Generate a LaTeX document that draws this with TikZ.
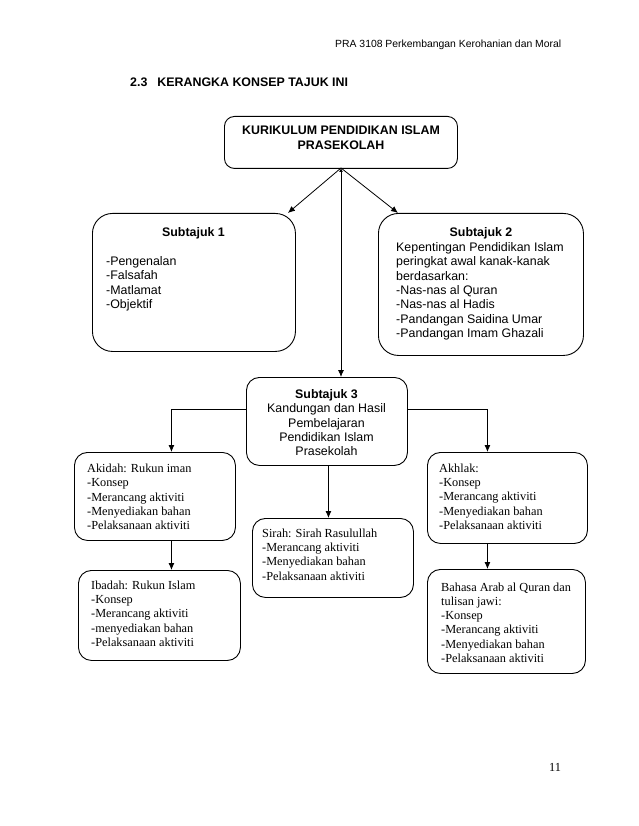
\documentclass[tikz,border=0pt]{standalone}
\usepackage{fontspec}
\setmainfont{Liberation Serif}
\setsansfont{Liberation Sans}
\usetikzlibrary{arrows.meta,calc}
\begin{document}
\begin{tikzpicture}[x=1pt,y=-1pt,
  box/.style={draw, line width=0.9pt, rounded corners=12pt, inner sep=0pt, anchor=north west},
  arr/.style={line width=0.8pt, -{Latex[length=7pt,width=6pt]}},
  sanstxt/.style={inner sep=0pt, font=\sffamily\fontsize{12.4}{14.3}\selectfont},
  seriftxt/.style={inner sep=0pt, font=\rmfamily\fontsize{12.3}{14.3}\selectfont},
]
\useasboundingbox (0,0) rectangle (638,826);

% header and title
\node[inner sep=0pt, anchor=base west, font=\sffamily\fontsize{10.4}{12}\selectfont] (hdr) at (335,48) {PRA 3108 Perkembangan Kerohanian dan Moral};
\node[sanstxt, anchor=base west, font=\sffamily\bfseries\fontsize{12.4}{14}\selectfont] (ttl) at (130,86.4) {2.3\hspace{10pt}KERANGKA KONSEP TAJUK INI};

% boxes
\node[box, rounded corners=10pt, minimum width=233pt, minimum height=52pt] (main) at (224,116) {};
\node[box, rounded corners=20pt, minimum width=203pt, minimum height=138pt] (s1) at (92,213) {};
\node[box, rounded corners=20pt, minimum width=205pt, minimum height=142pt] (s2) at (378,213) {};
\node[box, rounded corners=13pt, minimum width=161pt, minimum height=88pt] (s3) at (246,377) {};
\node[box, rounded corners=13pt, minimum width=161pt, minimum height=88pt] (akidah) at (74,452) {};
\node[box, rounded corners=13pt, minimum width=162pt, minimum height=90pt] (ibadah) at (78,570) {};
\node[box, rounded corners=13pt, minimum width=161pt, minimum height=79pt] (sirah) at (252,518) {};
\node[box, rounded corners=13pt, minimum width=160pt, minimum height=91pt] (akhlak) at (427,452) {};
\node[box, rounded corners=13pt, minimum width=158pt, minimum height=104pt] (bahasa) at (427,569) {};

% texts
\node[sanstxt, anchor=north, align=center, font=\sffamily\bfseries\fontsize{12.4}{15}\selectfont] (maintxt) at (341,125.5) {KURIKULUM PENDIDIKAN ISLAM\\PRASEKOLAH};
\node[sanstxt, anchor=north, font=\sffamily\bfseries\fontsize{12.4}{14.3}\selectfont] (s1t) at (193.5,227.5) {Subtajuk 1};
\node[sanstxt, anchor=north west, align=left] (s1b) at (106,256.5) {-Pengenalan\\-Falsafah\\-Matlamat\\-Objektif};
\node[sanstxt, anchor=north, font=\sffamily\bfseries\fontsize{12.4}{14.3}\selectfont] (s2t) at (481,227.5) {Subtajuk 2};
\node[sanstxt, anchor=north west, align=left] (s2b) at (396,242.5) {Kepentingan Pendidikan Islam\\peringkat awal kanak-kanak\\berdasarkan:\\-Nas-nas al Quran\\-Nas-nas al Hadis\\-Pandangan Saidina Umar\\-Pandangan Imam Ghazali};
\node[sanstxt, anchor=north, align=center] (s3b) at (326.5,389.5) {\textbf{Subtajuk 3}\\Kandungan dan Hasil\\Pembelajaran\\Pendidikan Islam\\Prasekolah};
\node[seriftxt, anchor=north west, align=left] (akidahb) at (87,463.8) {Akidah: Rukun iman\\-Konsep\\-Merancang aktiviti\\-Menyediakan bahan\\-Pelaksanaan aktiviti};
\node[seriftxt, anchor=north west, align=left] (ibadahb) at (91,580.6) {Ibadah: Rukun Islam\\-Konsep\\-Merancang aktiviti\\-menyediakan bahan\\-Pelaksanaan aktiviti};
\node[seriftxt, anchor=north west, align=left] (sirahb) at (262,528.6) {Sirah: Sirah Rasulullah\\-Merancang aktiviti\\-Menyediakan bahan\\-Pelaksanaan aktiviti};
\node[seriftxt, anchor=north west, align=left] (akhlakb) at (439,463.6) {Akhlak:\\-Konsep\\-Merancang aktiviti\\-Menyediakan bahan\\-Pelaksanaan aktiviti};
\node[seriftxt, anchor=north west, align=left] (bahasab) at (441,582.3) {Bahasa Arab al Quran dan\\tulisan jawi:\\-Konsep\\-Merancang aktiviti\\-Menyediakan bahan\\-Pelaksanaan aktiviti};
\node[seriftxt, anchor=base] (pg) at (555,771) {11};

% connectors
\coordinate (src) at (341,168);
\draw[arr] (src) -- ([xshift=-8pt]s1.north east);
\draw[arr] (src) -- ([xshift=20pt]s2.north west);
\draw[line width=0.8pt, {Latex[length=4pt,width=4pt]}-{Latex[length=7pt,width=6pt]}] (src) -- (src |- s3.north);
\draw[arr] ([yshift=12pt]s3.west) -| ([xshift=16.5pt]akidah.north);
\draw[arr] ([xshift=16.5pt]akidah.south) -- ([xshift=16.5pt]akidah.south |- ibadah.north);
\draw[arr] ([yshift=12pt]s3.east) -| ([xshift=-20pt]akhlak.north);
\draw[arr] ([xshift=-20pt]akhlak.south) -- ([xshift=-20pt]akhlak.south |- bahasa.north);
\draw[arr] ([xshift=1.5pt]s3.south) -- ([xshift=1.5pt]s3.south |- sirah.north);
\end{tikzpicture}
\end{document}
